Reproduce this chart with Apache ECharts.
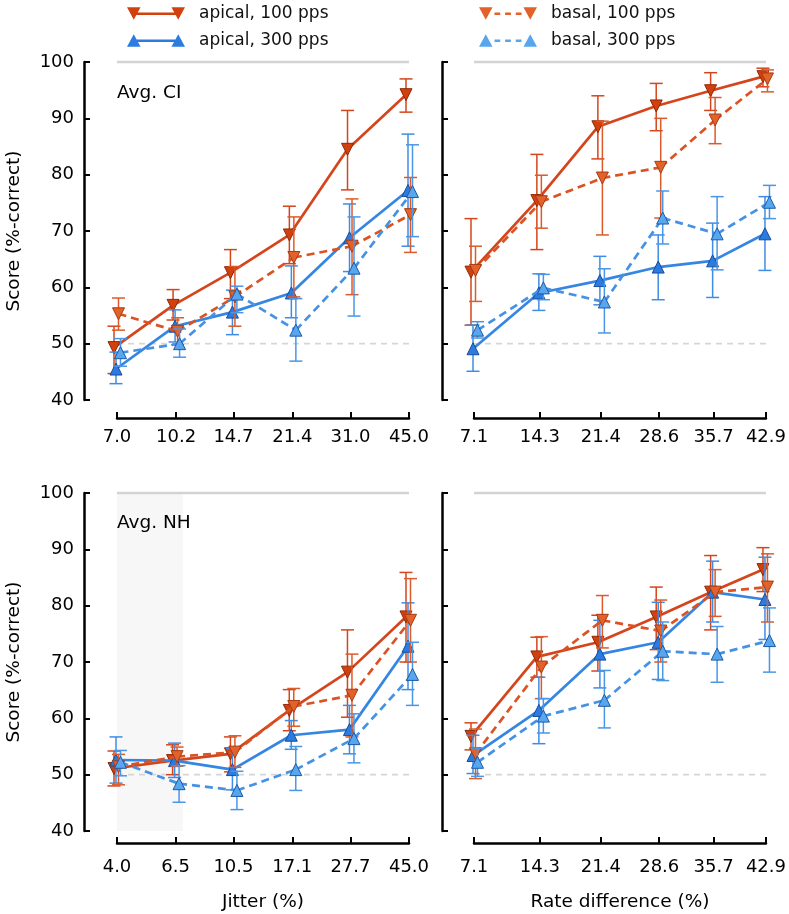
<!DOCTYPE html>
<html><head><meta charset="utf-8">
<script src="https://cdn.jsdelivr.net/npm/echarts@6/dist/echarts.min.js"></script>
<style>html,body{margin:0;padding:0;background:#fff}#c{width:789px;height:914px}</style>
</head><body><div id="c"></div>
<script>
// ---------- x categories / tick labels ----------
const jitterCI = [7.0, 10.2, 14.7, 21.4, 31.0, 45.0];
const jitterNH = [4.0, 6.5, 10.5, 17.1, 27.7, 45.0];
const rateDiff = [7.1, 14.3, 21.4, 28.6, 35.7, 42.9];
const jitterCILabels = ['7.0', '10.2', '14.7', '21.4', '31.0', '45.0'];
const jitterNHLabels = ['4.0', '6.5', '10.5', '17.1', '27.7', '45.0'];
const rateDiffLabels = ['7.1', '14.3', '21.4', '28.6', '35.7', '42.9'];
const yTicks = [40, 50, 60, 70, 80, 90, 100];
const chanceLevel = 50;
const ceilingLevel = 100;
const shadeNH = [4.0, 6.9];

// ---------- Avg. CI, jitter ----------
const ciJit_a100 = [49.3, 56.8, 62.6, 69.3, 84.5, 94.2];
const ciJit_a100_lo = [44.7, 54.2, 58.0, 64.2, 77.3, 91.1];
const ciJit_a100_hi = [53.1, 59.6, 66.7, 74.4, 91.4, 97.0];
const ciJit_a300 = [45.5, 53.1, 55.6, 59.0, 68.8, 77.2];
const ciJit_a300_lo = [42.9, 50.3, 51.6, 54.6, 62.8, 67.3];
const ciJit_a300_hi = [48.5, 56.0, 59.5, 63.8, 74.8, 87.2];
const ciJit_b100 = [55.3, 52.2, 58.3, 65.3, 67.3, 72.9];
const ciJit_b100_lo = [52.4, 49.8, 53.1, 58.3, 58.7, 66.2];
const ciJit_b100_hi = [58.1, 54.6, 63.7, 72.5, 75.7, 79.5];
const ciJit_b300 = [48.4, 50.0, 58.8, 52.4, 63.4, 77.0];
const ciJit_b300_lo = [46.0, 47.6, 55.5, 46.9, 54.9, 69.0];
const ciJit_b300_hi = [50.9, 52.6, 60.2, 58.0, 72.5, 85.3];

// ---------- Avg. CI, rate difference ----------
const ciRate_a100 = [62.7, 75.4, 88.5, 92.2, 94.9, 97.4];
const ciRate_a100_lo = [53.3, 66.7, 82.8, 87.8, 91.4, 95.6];
const ciRate_a100_hi = [72.2, 83.6, 94.0, 96.2, 98.1, 98.9];
const ciRate_a300 = [49.1, 59.0, 61.2, 63.6, 64.7, 69.5];
const ciRate_a300_lo = [45.1, 55.9, 56.9, 57.8, 58.2, 63.0];
const ciRate_a300_hi = [53.3, 62.4, 65.5, 69.3, 71.4, 76.1];
const ciRate_b100 = [63.0, 75.2, 79.4, 81.3, 89.7, 97.0];
const ciRate_b100_lo = [57.5, 70.5, 69.3, 72.3, 85.5, 94.7];
const ciRate_b100_hi = [67.3, 79.9, 89.5, 90.0, 93.7, 98.6];
const ciRate_b300 = [52.4, 59.9, 57.4, 72.3, 69.5, 75.1];
const ciRate_b300_lo = [51.0, 57.8, 51.9, 67.7, 63.1, 72.2];
const ciRate_b300_hi = [53.9, 62.3, 63.3, 77.1, 76.1, 78.1];

// ---------- Avg. NH, jitter ----------
const nhJit_a100 = [51.1, 52.5, 53.7, 61.4, 68.2, 78.0];
const nhJit_a100_lo = [48.0, 50.0, 50.5, 57.8, 60.2, 70.0];
const nhJit_a100_hi = [54.2, 55.3, 56.7, 65.1, 75.7, 85.9];
const nhJit_a300 = [52.6, 52.5, 50.9, 57.0, 58.0, 72.8];
const nhJit_a300_lo = [48.5, 49.5, 47.3, 54.5, 53.7, 65.1];
const nhJit_a300_hi = [56.7, 55.6, 54.6, 59.6, 62.3, 80.5];
const nhJit_b100 = [51.4, 53.2, 54.0, 62.1, 64.1, 77.4];
const nhJit_b100_lo = [48.2, 51.5, 51.3, 58.6, 56.7, 70.0];
const nhJit_b100_hi = [53.6, 54.9, 56.9, 65.3, 71.4, 84.8];
const nhJit_b300 = [52.2, 48.4, 47.2, 50.9, 56.4, 67.8];
const nhJit_b300_lo = [49.8, 45.1, 43.8, 47.2, 52.1, 62.3];
const nhJit_b300_hi = [54.3, 51.6, 50.6, 55.0, 60.8, 73.5];

// ---------- Avg. NH, rate difference ----------
const nhRate_a100 = [56.8, 70.9, 73.5, 78.0, 82.4, 86.4];
const nhRate_a100_lo = [54.4, 67.3, 68.4, 72.2, 75.7, 82.5];
const nhRate_a100_hi = [59.2, 74.4, 78.3, 83.3, 88.9, 90.3];
const nhRate_a300 = [53.4, 61.4, 71.4, 73.5, 82.4, 81.1];
const nhRate_a300_lo = [50.2, 55.5, 65.4, 66.9, 77.1, 74.0];
const nhRate_a300_hi = [57.0, 67.3, 77.4, 80.6, 87.9, 88.6];
const nhRate_b100 = [53.7, 69.1, 77.4, 75.5, 82.4, 83.3];
const nhRate_b100_lo = [49.3, 63.5, 72.5, 70.0, 78.1, 77.1];
const nhRate_b100_hi = [58.1, 74.5, 81.8, 81.0, 86.4, 89.2];
const nhRate_b300 = [52.2, 60.4, 63.2, 71.9, 71.4, 73.8];
const nhRate_b300_lo = [49.7, 57.4, 58.3, 66.7, 66.4, 68.2];
const nhRate_b300_hi = [54.7, 63.5, 68.5, 77.1, 76.3, 79.6];

// ---------- styles ----------
const FONT = 'DejaVu Sans';
const styles = [
  {name: 'apical, 100 pps', fill: '#D2400E', edge: '#8E2A08', line: '#D4451B', err: '#D4451B', dash: false, up: false, dodge: -3},
  {name: 'apical, 300 pps', fill: '#2B7BE0', edge: '#174D9C', line: '#3585E2', err: '#3F8CE3', dash: false, up: true, dodge: -1},
  {name: 'basal, 100 pps', fill: '#E2622A', edge: '#A83A10', line: '#DB5223', err: '#DD5A2A', dash: true, up: false, dodge: 1.5},
  {name: 'basal, 300 pps', fill: '#58A6EE', edge: '#1B5AA8', line: '#4592E5', err: '#4A96E6', dash: true, up: true, dodge: 3.5}
];

const logJ = v => Math.log(v);
const logR = v => Math.log(1 + v / 100);

const panels = [
  {xs: jitterCI, labels: jitterCILabels, tf: logJ, sets: [
    [ciJit_a100, ciJit_a100_lo, ciJit_a100_hi], [ciJit_a300, ciJit_a300_lo, ciJit_a300_hi],
    [ciJit_b100, ciJit_b100_lo, ciJit_b100_hi], [ciJit_b300, ciJit_b300_lo, ciJit_b300_hi]]},
  {xs: rateDiff, labels: rateDiffLabels, tf: logR, sets: [
    [ciRate_a100, ciRate_a100_lo, ciRate_a100_hi], [ciRate_a300, ciRate_a300_lo, ciRate_a300_hi],
    [ciRate_b100, ciRate_b100_lo, ciRate_b100_hi], [ciRate_b300, ciRate_b300_lo, ciRate_b300_hi]]},
  {xs: jitterNH, labels: jitterNHLabels, tf: logJ, sets: [
    [nhJit_a100, nhJit_a100_lo, nhJit_a100_hi], [nhJit_a300, nhJit_a300_lo, nhJit_a300_hi],
    [nhJit_b100, nhJit_b100_lo, nhJit_b100_hi], [nhJit_b300, nhJit_b300_lo, nhJit_b300_hi]]},
  {xs: rateDiff, labels: rateDiffLabels, tf: logR, sets: [
    [nhRate_a100, nhRate_a100_lo, nhRate_a100_hi], [nhRate_a300, nhRate_a300_lo, nhRate_a300_hi],
    [nhRate_b100, nhRate_b100_lo, nhRate_b100_hi], [nhRate_b300, nhRate_b300_lo, nhRate_b300_hi]]}
];

const gridPos = [
  {left: 117, top: 62, width: 292, height: 338},
  {left: 474, top: 62, width: 292, height: 338},
  {left: 117, top: 493, width: 292, height: 338},
  {left: 474, top: 493, width: 292, height: 338}
];

function nearestLabel(pos, labels) {
  return function (v) {
    let b = 0;
    for (let i = 1; i < pos.length; i++) if (Math.abs(pos[i] - v) < Math.abs(pos[b] - v)) b = i;
    return labels[b];
  };
}

const xAxes = [], yAxes = [], series = [];
panels.forEach((p, k) => {
  const pos = p.xs.map(p.tf);
  const bottom = k >= 2;
  const left = k % 2 === 0;
  xAxes.push({
    type: 'value', gridIndex: k, min: pos[0], max: pos[pos.length - 1],
    offset: bottom ? 12 : 18,
    axisLine: {show: true, onZero: false, lineStyle: {color: '#000', width: 2.5}},
    axisTick: {show: true, inside: true, length: 6, lineStyle: {color: '#000', width: 2}, customValues: pos},
    axisLabel: {show: true, customValues: pos, formatter: nearestLabel(pos, p.labels),
      fontFamily: FONT, fontSize: 18, color: '#000', margin: bottom ? 15 : 10},
    splitLine: {show: false},
    name: bottom ? (left ? 'Jitter (%)' : 'Rate difference (%)') : '',
    nameLocation: 'middle', nameGap: 50,
    nameTextStyle: {fontFamily: FONT, fontSize: 18.5, color: '#000'}
  });
  yAxes.push({
    type: 'value', gridIndex: k, min: yTicks[0], max: yTicks[yTicks.length - 1], interval: 10,
    offset: left ? 33 : 32,
    axisLine: {show: true, lineStyle: {color: '#000', width: 2.5}},
    axisTick: {show: true, inside: true, length: 6, lineStyle: {color: '#000', width: 2}},
    axisLabel: {show: left, fontFamily: FONT, fontSize: 18, color: '#000', margin: 10},
    splitLine: {show: false},
    name: left ? 'Score (%-correct)' : '',
    nameLocation: 'middle', nameGap: 60,
    nameTextStyle: {fontFamily: FONT, fontSize: 18.5, color: '#000'}
  });

  // shaded region (bottom-left only)
  if (k === 2) {
    series.push({
      type: 'custom', xAxisIndex: k, yAxisIndex: k, z: 0, silent: true,
      data: [[Math.log(shadeNH[0]), yTicks[0], Math.log(shadeNH[1]), yTicks[yTicks.length - 1]]],
      encode: {x: [0, 2], y: [1, 3]},
      renderItem: function (params, api) {
        const a = api.coord([api.value(0), api.value(1)]);
        const b = api.coord([api.value(2), api.value(3)]);
        return {type: 'rect', shape: {x: a[0], y: b[1], width: b[0] - a[0], height: a[1] - b[1]},
          style: {fill: '#F7F7F7'}};
      }
    });
  }
  // reference lines at ceiling and chance
  series.push({
    type: 'custom', xAxisIndex: k, yAxisIndex: k, z: 1, silent: true,
    data: [[pos[0], ceilingLevel, pos[pos.length - 1]], [pos[0], chanceLevel, pos[pos.length - 1]]],
    encode: {x: [0, 2], y: 1},
    renderItem: function (params, api) {
      const a = api.coord([api.value(0), api.value(1)]);
      const b = api.coord([api.value(2), api.value(1)]);
      const solid = params.dataIndex === 0;
      return {type: 'line', shape: {x1: a[0], y1: a[1], x2: b[0], y2: b[1]},
        style: {stroke: solid ? '#D3D3D3' : '#D6D6D6', lineWidth: solid ? 2.5 : 1.6, lineDash: solid ? null : [6, 5]}};
    }
  });

  // data series
  p.sets.forEach((set, s) => {
    const st = styles[s];
    const rows = pos.map((x, i) => [x, set[0][i], set[1][i], set[2][i]]);
    series.push({
      type: 'custom', name: st.name, xAxisIndex: k, yAxisIndex: k, z: 2 + s, clip: false,
      itemStyle: {color: st.fill},
      data: rows,
      encode: {x: 0, y: [1, 2, 3]},
      renderItem: function (params, api) {
        const i = params.dataIndex;
        const c = api.coord([api.value(0), api.value(1)]);
        const lo = api.coord([api.value(0), api.value(2)]);
        const hi = api.coord([api.value(0), api.value(3)]);
        const x = c[0] + st.dodge, y = c[1];
        const ch = [];
        if (i < rows.length - 1) {
          const n = api.coord([rows[i + 1][0], rows[i + 1][1]]);
          ch.push({type: 'line', shape: {x1: x, y1: y, x2: n[0] + st.dodge, y2: n[1]},
            style: {stroke: st.line, lineWidth: 2.7, lineDash: st.dash ? [8, 5] : null, lineCap: 'butt'}});
        }
        const cw = 6.5;
        ch.push({type: 'line', shape: {x1: x, y1: lo[1], x2: x, y2: hi[1]}, style: {stroke: st.err, lineWidth: 1.5}});
        ch.push({type: 'line', shape: {x1: x - cw, y1: lo[1], x2: x + cw, y2: lo[1]}, style: {stroke: st.err, lineWidth: 1.5}});
        ch.push({type: 'line', shape: {x1: x - cw, y1: hi[1], x2: x + cw, y2: hi[1]}, style: {stroke: st.err, lineWidth: 1.5}});
        const h = 6;
        const pts = st.up ? [[x, y - h], [x + h, y + h], [x - h, y + h]]
                          : [[x - h, y - h], [x + h, y - h], [x, y + h]];
        ch.push({type: 'polygon', shape: {points: pts}, style: {fill: st.fill, stroke: st.edge, lineWidth: 1}});
        return {type: 'group', children: ch};
      }
    });
  });
});

// legend icons
const triDownL = 'M0 0 L14 0 L7 13 Z', triDownR = 'M46 0 L60 0 L53 13 Z';
const triUpL = 'M7 0 L14 13 L0 13 Z', triUpR = 'M53 0 L60 13 L46 13 Z';
const solidBar = 'M7 5.5 L53 5.5 L53 8 L7 8 Z';
const dashBar = 'M16 5.5 L22 5.5 L22 8 L16 8 Z M27 5.5 L33 5.5 L33 8 L27 8 Z M38 5.5 L44 5.5 L44 8 L38 8 Z';
const icons = [
  'path://' + triDownL + ' ' + solidBar + ' ' + triDownR,
  'path://' + triUpL + ' ' + solidBar + ' ' + triUpR,
  'path://' + triDownL + ' ' + dashBar + ' ' + triDownR,
  'path://' + triUpL + ' ' + dashBar + ' ' + triUpR
];
const legendText = {fontFamily: FONT, fontSize: 17, color: '#111', padding: [0, 0, 0, 9]};

const option = {
  animation: false,
  backgroundColor: '#fff',
  grid: gridPos,
  xAxis: xAxes,
  yAxis: yAxes,
  legend: [
    {left: 122, top: 0, orient: 'vertical', itemWidth: 58, itemHeight: 14, itemGap: 10, selectedMode: false,
      data: [{name: styles[0].name, icon: icons[0]}, {name: styles[1].name, icon: icons[1]}], textStyle: legendText},
    {left: 474, top: 0, orient: 'vertical', itemWidth: 58, itemHeight: 14, itemGap: 10, selectedMode: false,
      data: [{name: styles[2].name, icon: icons[2]}, {name: styles[3].name, icon: icons[3]}], textStyle: legendText}
  ],
  graphic: [
    {type: 'text', left: 117, top: 84, z: 100, style: {text: 'Avg. CI', fontFamily: FONT, fontSize: 18.5, fill: '#000'}},
    {type: 'text', left: 117, top: 514, z: 100, style: {text: 'Avg. NH', fontFamily: FONT, fontSize: 18.5, fill: '#000'}}
  ],
  series: series
};

const chart = echarts.init(document.getElementById('c'), null, {renderer: 'canvas'});
chart.setOption(option);
</script>
</body></html>
